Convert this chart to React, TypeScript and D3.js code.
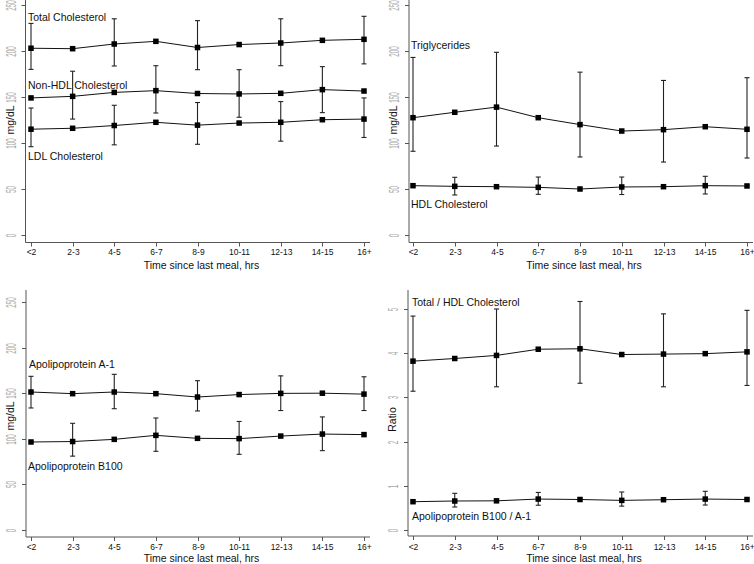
import { useEffect, useRef } from "react";
import * as d3 from "d3";

// categories
const periods = ["<2", "2-3", "4-5", "6-7", "8-9", "10-11", "12-13", "14-15", "16+"];
const mgTicks = [0, 50, 100, 150, 200, 250];
const ratioTicks = [0, 1, 2, 3, 4, 5];

// lipids, mg/dL (null = no error bar drawn at that point)
const totalChol = [203, 202.5, 207.6, 210.5, 203.8, 207, 208.7, 211.6, 212.7];
const totalCholHi = [230, null, 235, null, 233, null, 235, null, 237.7];
const totalCholLo = [180, null, 183.7, null, 179.7, null, 184, null, 186];

const nonHdl = [149, 150.7, 155, 156.9, 153.8, 153.3, 154, 158, 156.5];
const nonHdlHi = [null, 178, null, 184, null, 179.7, null, 183, null];
const nonHdlLo = [null, 126, null, 132.6, null, 128, null, 133, null];

const ldl = [115, 116, 119, 122.5, 119.4, 121.7, 122.5, 125.3, 126];
const ldlHi = [138, null, 141, null, 144, null, 145, null, 149];
const ldlLo = [96, null, 98, null, 98.6, null, 102, null, 106];

const trig = [127.5, 133.4, 139, 127.5, 120, 113, 114.5, 117.7, 114.9];
const trigHi = [193, null, 198.6, null, 177, null, 168, null, 171];
const trigLo = [91, null, 96.7, null, 84.8, null, 79.3, null, 83.7];

const hdl = [53.6, 52.9, 52.5, 51.8, 50, 52.2, 52.5, 53.6, 53.3];
const hdlHi = [null, 62.7, null, 63, null, 63, null, 63.8, null];
const hdlLo = [null, 43.5, null, 44.2, null, 44, null, 44.6, null];

// apolipoproteins, mg/dL
const apoA1 = [151.3, 149.5, 151.3, 149.5, 145.8, 148.5, 149.8, 150, 149];
const apoA1Hi = [168.5, null, 170.7, null, 163.7, null, 169, null, 168];
const apoA1Lo = [133.8, null, 133, null, 130.5, null, 131, null, 131];

const apoB = [96.5, 97, 99.4, 103.8, 100.5, 100.2, 103, 105.2, 104.6];
const apoBHi = [null, 117, null, 122.8, null, 119, null, 124, null];
const apoBLo = [null, 81, null, 86.3, null, 83, null, 87, null];

// ratios
const tcHdl = [3.82, 3.88, 3.95, 4.09, 4.1, 3.97, 3.98, 3.99, 4.03];
const tcHdlHi = [4.84, null, 5.0, null, 5.17, null, 4.89, null, 4.97];
const tcHdlLo = [3.14, null, 3.24, null, 3.32, null, 3.24, null, 3.27];

const apoBA = [0.64, 0.656, 0.66, 0.7, 0.69, 0.67, 0.685, 0.7, 0.69];
const apoBAHi = [null, 0.83, null, 0.85, null, 0.86, null, 0.875, null];
const apoBALo = [null, 0.52, null, 0.56, null, 0.54, null, 0.565, null];

const FONT = "'Liberation Sans', Arial, sans-serif";

const panels = [
  {
    ax: 25.5, ay: 242.5, top: 0, xr: [31, 364], yr: [235, 5], domain: [0, 250], ticks: mgTicks,
    ylab: "mg/dL", titleY: 269, tickLabY: 255,
    series: [
      { v: totalChol, hi: totalCholHi, lo: totalCholLo },
      { v: nonHdl, hi: nonHdlHi, lo: nonHdlLo },
      { v: ldl, hi: ldlHi, lo: ldlLo },
    ],
    labels: [
      { t: "Total Cholesterol", x: 28, y: 21 },
      { t: "Non-HDL Cholesterol", x: 28, y: 89 },
      { t: "LDL Cholesterol", x: 28, y: 160 },
    ],
  },
  {
    ax: 409, ay: 242.5, top: 0, xr: [413, 747], yr: [235, 5], domain: [0, 250], ticks: mgTicks,
    ylab: "mg/dL", titleY: 269, tickLabY: 255,
    series: [
      { v: trig, hi: trigHi, lo: trigLo },
      { v: hdl, hi: hdlHi, lo: hdlLo },
    ],
    labels: [
      { t: "Triglycerides", x: 411, y: 49 },
      { t: "HDL Cholesterol", x: 411, y: 208 },
    ],
  },
  {
    ax: 26, ay: 537, top: 290, xr: [31, 364], yr: [530, 302], domain: [0, 250], ticks: mgTicks,
    ylab: "mg/dL", titleY: 562, tickLabY: 550,
    series: [
      { v: apoA1, hi: apoA1Hi, lo: apoA1Lo },
      { v: apoB, hi: apoBHi, lo: apoBLo },
    ],
    labels: [
      { t: "Apolipoprotein A-1", x: 29, y: 368 },
      { t: "Apolipoprotein B100", x: 28, y: 470 },
    ],
  },
  {
    ax: 408, ay: 536, top: 290, xr: [413, 747], yr: [530, 309], domain: [0, 5], ticks: ratioTicks,
    ylab: "Ratio", titleY: 562, tickLabY: 550,
    series: [
      { v: tcHdl, hi: tcHdlHi, lo: tcHdlLo },
      { v: apoBA, hi: apoBAHi, lo: apoBALo },
    ],
    labels: [
      { t: "Total / HDL Cholesterol", x: 412, y: 306 },
      { t: "Apolipoprotein B100 / A-1", x: 412, y: 520 },
    ],
  },
];

const App = () => {
  const svgRef = useRef(null);

  useEffect(() => {
    const svg = d3.select(svgRef.current);
    svg.selectAll("*").remove();

    panels.forEach((p) => {
      const x = d3.scalePoint().domain(periods).range(p.xr);
      const y = d3.scaleLinear().domain(p.domain).range(p.yr);
      const g = svg.append("g");

      // axes lines
      g.append("line")
        .attr("x1", p.ax).attr("x2", p.ax)
        .attr("y1", p.top).attr("y2", p.ay)
        .attr("stroke", "#555");
      g.append("line")
        .attr("x1", p.ax).attr("x2", p.xr[1] + 6)
        .attr("y1", p.ay).attr("y2", p.ay)
        .attr("stroke", "#555");

      // y ticks + faint rotated labels
      const yt = g.selectAll(".yt").data(p.ticks).join("g")
        .attr("class", "yt")
        .attr("transform", (d) => `translate(${p.ax},${Math.round(y(d)) + 0.5})`);
      yt.append("line").attr("x1", -4).attr("x2", 0).attr("stroke", "#555");
      yt.append("text")
        .attr("transform", "translate(-10,0) rotate(-90) scale(0.45,1)")
        .attr("text-anchor", "middle")
        .attr("font-size", 14)
        .attr("font-family", FONT)
        .attr("fill", "#aaa")
        .text((d) => d);

      // x ticks
      const xt = g.selectAll(".xt").data(periods).join("g")
        .attr("class", "xt")
        .attr("transform", (d) => `translate(${Math.round(x(d)) + 0.5},${p.ay})`);
      xt.append("line").attr("y1", 0).attr("y2", 4).attr("stroke", "#555");
      xt.append("text")
        .attr("y", p.tickLabY - p.ay)
        .attr("text-anchor", "middle")
        .attr("font-size", 8.5)
        .attr("font-family", FONT)
        .attr("fill", "#111")
        .text((d) => d);

      // axis titles
      g.append("text")
        .attr("x", (p.xr[0] + p.xr[1]) / 2 + 4)
        .attr("y", p.titleY)
        .attr("text-anchor", "middle")
        .attr("font-size", 10.5)
        .attr("font-family", FONT)
        .attr("fill", "#111")
        .text("Time since last meal, hrs");
      g.append("text")
        .attr("transform", `translate(${p.ax - 12},${(p.yr[0] + p.yr[1]) / 2}) rotate(-90)`)
        .attr("text-anchor", "middle")
        .attr("font-size", 10.5)
        .attr("font-family", FONT)
        .attr("fill", "#111")
        .text(p.ylab);

      // series
      p.series.forEach((s) => {
        const pts = s.v.map((v, i) => ({ k: periods[i], v, hi: s.hi[i], lo: s.lo[i] }));
        const line = d3.line().x((d) => x(d.k)).y((d) => y(d.v));
        g.append("path")
          .attr("d", line(pts))
          .attr("fill", "none")
          .attr("stroke", "#111")
          .attr("stroke-width", 1);

        const eb = g.selectAll(null).data(pts.filter((d) => d.hi != null)).join("g")
          .attr("stroke", "#222")
          .attr("stroke-width", 1.1);
        eb.append("line")
          .attr("x1", (d) => x(d.k)).attr("x2", (d) => x(d.k))
          .attr("y1", (d) => y(d.hi)).attr("y2", (d) => y(d.lo));
        eb.append("line")
          .attr("x1", (d) => x(d.k) - 2.5).attr("x2", (d) => x(d.k) + 2.5)
          .attr("y1", (d) => y(d.hi)).attr("y2", (d) => y(d.hi));
        eb.append("line")
          .attr("x1", (d) => x(d.k) - 2.5).attr("x2", (d) => x(d.k) + 2.5)
          .attr("y1", (d) => y(d.lo)).attr("y2", (d) => y(d.lo));

        g.selectAll(null).data(pts).join("rect")
          .attr("x", (d) => x(d.k) - 2.75)
          .attr("y", (d) => y(d.v) - 2.75)
          .attr("width", 5.5)
          .attr("height", 5.5)
          .attr("fill", "#000");
      });

      // series labels
      g.selectAll(null).data(p.labels).join("text")
        .attr("x", (d) => d.x)
        .attr("y", (d) => d.y)
        .attr("font-size", 10.5)
        .attr("font-family", FONT)
        .attr("fill", "#111")
        .text((d) => d.t);
    });
  }, []);

  return (
    <div style={{ position: "absolute", left: 0, top: 0, width: 754, height: 564, background: "#fff" }}>
      <svg ref={svgRef} width={754} height={564}></svg>
    </div>
  );
};

export default App;
